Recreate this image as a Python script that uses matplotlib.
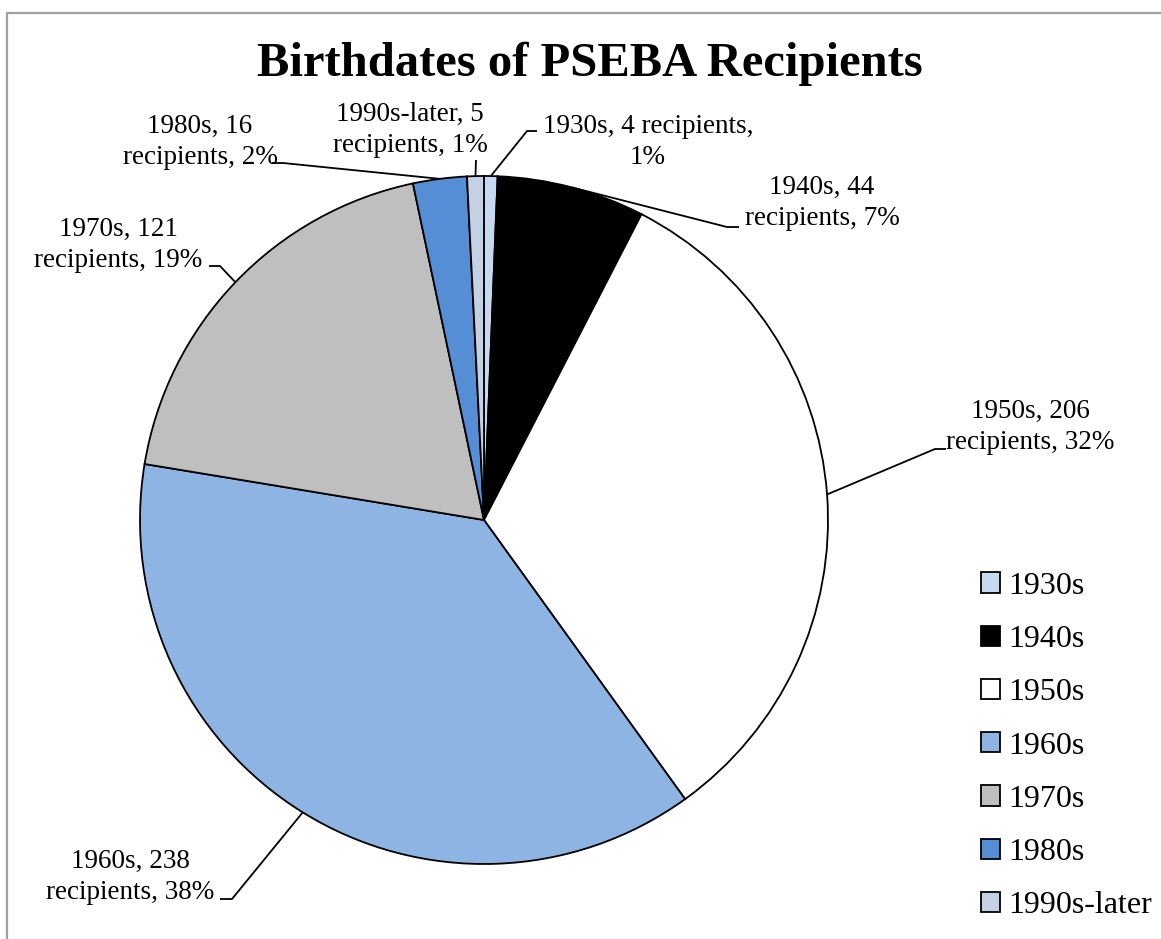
import numpy as np
import matplotlib
matplotlib.use("Agg")
import matplotlib.pyplot as plt
from matplotlib.lines import Line2D

plt.rcParams['font.family'] = ['Liberation Serif', 'DejaVu Serif']

# data
decades = ['1930s', '1940s', '1950s', '1960s', '1970s', '1980s', '1990s-later']
recipients = [4, 44, 206, 238, 121, 16, 5]
percents = ['1%', '7%', '32%', '38%', '19%', '2%', '1%']
colors = ['#c6d9f1', '#000000', '#ffffff', '#8eb4e3', '#bfbfbf', '#558ed5', '#c4d0e3']

W, H = 1161, 939
fig = plt.figure(figsize=(W / 100, H / 100), dpi=100)
ax = fig.add_axes([0, 0, 1, 1])

cx, cy, r = 484, H - 520, 344
wedges, _ = ax.pie(recipients, colors=colors, startangle=90, counterclock=False,
                   center=(cx, cy), radius=r,
                   wedgeprops=dict(edgecolor='black', linewidth=1.3))
ax.set_xlim(0, W)
ax.set_ylim(0, H)
ax.set_aspect('equal')
ax.axis('off')

# label text centre, elbow point, line end (px from top-left)
label_layout = {
    '1930s':       ((648, 142), (527, 131), (537, 131)),
    '1940s':       ((822, 203), (727, 227), (739, 227)),
    '1950s':       ((1030, 427), (935, 449), (946, 449)),
    '1960s':       ((130, 877), (232, 899), (220, 899)),
    '1970s':       ((118, 245), (220, 266), (209, 266)),
    '1980s':       ((200, 142), (283, 163), (272, 163)),
    '1990s-later': ((410, 130), (476, 160), (476, 160)),
}

label_texts = {
    '1930s': '1930s, 4 recipients,\n1%',
}

for w, dec, n, pct in zip(wedges, decades, recipients, percents):
    (tx, ty), (ex, ey), (lx, ly) = label_layout[dec]
    txt = label_texts.get(dec, f'{dec}, {n}\nrecipients, {pct}')
    ax.text(tx, H - ty, txt, ha='center', va='center', fontsize=19.5,
            linespacing=1.3)
    ang = np.deg2rad((w.theta1 + w.theta2) / 2)
    sx, sy = cx + r * np.cos(ang), cy + r * np.sin(ang)
    ax.plot([sx, ex, lx], [sy, H - ey, H - ly], color='black', lw=1.3,
            solid_capstyle='butt')

fig.text(590 / W, 1 - 64 / H, 'Birthdates of PSEBA Recipients', ha='center',
         va='center', fontsize=35, fontweight='bold')

ax.legend(wedges, decades, loc='upper left', bbox_to_anchor=(968 / W, 1 - 559 / H),
          bbox_transform=fig.transFigure, frameon=False, fontsize=23,
          handlelength=0.6, handleheight=0.6, handletextpad=0.25,
          labelspacing=0.76, borderaxespad=0)

# outer chart border
fig.add_artist(Line2D([7 / W, 7 / W, 1], [0, 1 - 13 / H, 1 - 13 / H],
                      transform=fig.transFigure, color='#a0a0a0', lw=1.6))

fig.savefig('out.png', dpi=100)
